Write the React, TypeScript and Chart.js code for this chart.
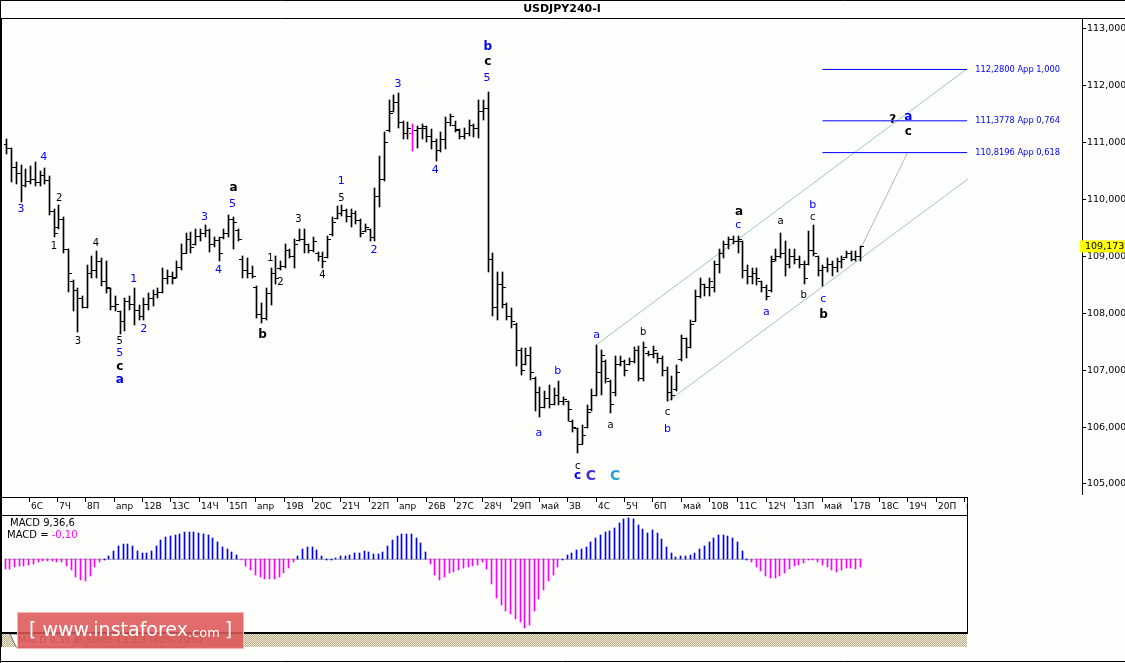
import React, { useEffect, useRef } from "react";
import { Chart, registerables } from "chart.js";
Chart.register(...registerables);

const TITLE = "USDJPY240-I";

const HIGH = [
  111.05,110.90,110.65,110.60,110.53,110.58,110.65,110.50,110.55,110.41,
  109.83,109.90,109.69,109.13,108.58,108.44,108.30,108.84,109.00,109.10,
  108.96,108.92,108.44,108.31,108.03,108.26,108.30,108.44,108.14,108.26,
  108.35,108.40,108.44,108.79,108.75,108.73,108.92,109.22,109.40,109.43,
  109.48,109.48,109.55,109.48,109.33,109.33,109.48,109.73,109.69,109.48,
  109.00,108.96,108.82,108.47,108.17,108.44,108.80,109.00,108.91,109.22,
  109.13,109.31,109.48,109.48,109.22,109.34,109.08,109.08,109.36,109.69,
  109.88,109.90,109.83,109.83,109.80,109.66,109.57,109.48,110.20,110.76,
  111.19,111.75,111.84,111.87,111.37,111.35,111.33,111.28,111.32,111.28,
  111.23,111.05,111.18,111.44,111.49,111.37,111.23,111.26,111.40,111.32,
  111.75,111.75,111.89,109.05,108.73,108.73,108.17,108.09,107.82,107.39,
  107.39,107.41,106.87,106.71,106.64,106.74,106.69,106.81,106.52,106.46,
  106.13,105.99,106.03,106.38,106.66,107.44,107.35,107.18,106.83,107.25,
  107.25,107.18,107.21,107.41,107.42,107.49,107.34,107.42,107.30,107.25,
  107.06,106.90,107.09,107.61,107.56,107.88,108.40,108.61,108.52,108.61,
  108.91,109.13,109.26,109.34,109.36,109.36,109.26,108.84,108.79,108.79,
  108.56,108.49,109.01,109.13,109.40,109.26,109.13,109.13,109.01,108.91,
  109.45,109.54,109.01,108.84,108.96,108.91,108.96,109.01,109.10,109.10,
  109.10,109.18,
];
const LOW = [
  110.79,110.30,110.27,109.95,110.22,110.27,110.23,110.23,110.27,109.73,
  109.34,109.48,109.05,108.38,108.03,107.67,108.09,108.09,108.61,108.61,
  108.47,108.35,108.05,108.03,107.63,107.68,108.05,107.79,107.88,107.88,
  108.05,108.12,108.26,108.35,108.52,108.52,108.61,108.75,109.05,109.05,
  109.19,109.26,109.34,109.08,109.17,108.91,109.31,109.34,109.13,109.26,
  108.61,108.61,108.61,107.91,107.83,107.88,108.14,108.52,108.75,108.79,
  108.96,108.80,109.26,109.05,109.05,109.08,108.91,108.79,108.96,109.36,
  109.66,109.71,109.60,109.52,109.57,109.34,109.43,109.27,109.27,109.87,
  110.32,111.18,111.54,111.26,111.05,111.05,110.84,110.90,111.05,111.00,
  110.88,110.67,110.83,110.88,111.28,111.18,111.05,111.05,111.11,111.09,
  111.07,111.40,108.73,107.95,107.88,108.09,107.88,107.74,107.07,106.92,
  107.09,106.83,106.29,106.17,106.34,106.34,106.39,106.39,106.39,106.11,
  105.91,105.54,105.70,105.99,106.29,106.55,106.57,106.78,106.25,106.55,
  107.07,106.90,107.09,107.13,106.81,106.81,107.25,107.21,107.13,106.90,
  106.45,106.48,106.64,107.16,107.21,107.39,107.86,108.26,108.30,108.31,
  108.38,108.70,108.96,109.13,109.22,109.05,108.61,108.52,108.52,108.49,
  108.38,108.23,108.38,108.91,108.96,108.65,108.79,108.87,108.79,108.52,
  108.84,109.01,108.65,108.47,108.73,108.65,108.73,108.79,108.96,108.91,
  108.91,108.92,
];
const OPEN = [
  110.97,110.90,110.55,110.45,110.25,110.32,110.35,110.30,110.42,110.33,
  109.78,109.50,109.65,109.12,108.55,108.40,108.25,108.10,108.70,108.75,
  108.90,108.55,108.44,108.12,108.03,107.85,108.20,108.15,108.05,107.95,
  108.15,108.25,108.32,108.36,108.60,108.64,108.62,108.80,109.05,109.30,
  109.20,109.35,109.40,109.45,109.20,109.28,109.33,109.40,109.65,109.45,
  108.95,108.75,108.70,108.45,107.98,107.90,108.35,108.70,108.78,108.82,
  109.10,109.00,109.28,109.30,109.20,109.10,109.05,109.00,108.98,109.38,
  109.66,109.75,109.80,109.70,109.75,109.62,109.44,109.47,109.32,110.05,
  110.35,111.20,111.55,111.70,111.35,111.15,111.15,111.20,111.25,111.25,
  111.10,111.02,110.85,111.05,111.35,111.30,111.20,111.10,111.15,111.30,
  111.25,111.55,111.60,108.95,108.10,108.50,108.15,107.95,107.80,107.35,
  107.10,107.25,106.85,106.60,106.35,106.50,106.40,106.55,106.45,106.45,
  106.10,105.98,105.70,106.00,106.30,106.55,106.95,107.15,106.80,106.60,
  107.10,107.15,107.10,107.15,107.35,106.85,107.30,107.28,107.30,107.20,
  107.00,106.60,106.66,107.18,107.55,107.40,107.86,108.30,108.50,108.45,
  108.45,108.85,109.05,109.20,109.30,109.25,109.25,108.75,108.65,108.70,
  108.55,108.45,108.40,108.95,109.00,109.05,108.85,109.00,108.95,108.85,
  108.85,109.10,109.00,108.75,108.80,108.85,108.80,108.90,108.98,109.05,
  108.95,109.00,
];
const CLOSE = [
  110.90,110.55,110.45,110.25,110.32,110.35,110.30,110.42,110.33,109.78,
  109.40,109.65,109.12,108.70,108.40,108.25,108.10,108.70,108.75,108.90,
  108.55,108.45,108.12,108.15,107.85,108.20,108.15,108.05,107.95,108.15,
  108.25,108.32,108.36,108.60,108.64,108.60,108.80,109.05,109.30,109.15,
  109.35,109.40,109.45,109.20,109.28,109.05,109.40,109.65,109.60,109.30,
  108.75,108.70,108.65,107.98,107.90,108.35,108.70,108.60,108.82,109.10,
  109.00,109.20,109.30,109.20,109.10,109.25,109.00,108.90,109.30,109.60,
  109.75,109.80,109.70,109.75,109.62,109.40,109.50,109.32,110.05,110.35,
  111.00,111.50,111.70,111.35,111.15,111.25,111.20,111.25,111.28,111.10,
  111.02,110.85,111.05,111.35,111.45,111.22,111.10,111.15,111.30,111.25,
  111.55,111.60,108.95,108.10,108.50,108.45,107.95,107.85,107.35,107.00,
  107.25,106.95,106.60,106.35,106.50,106.40,106.55,106.45,106.48,106.30,
  106.00,105.70,105.85,106.25,106.55,106.95,107.25,106.85,106.40,107.10,
  107.15,107.00,107.15,107.35,106.85,107.40,107.28,107.35,107.20,107.00,
  106.60,106.55,106.95,107.55,107.40,107.80,108.30,108.50,108.45,108.55,
  108.85,109.05,109.20,109.30,109.25,109.30,108.75,108.65,108.70,108.60,
  108.45,108.30,108.90,109.00,109.05,108.85,109.00,108.95,108.85,108.60,
  109.10,109.05,108.75,108.80,108.85,108.80,108.90,108.95,109.05,108.95,
  109.00,109.173,
];
const HIGHLIGHT_BAR = 86;

const MACD = [
  -0.12,-0.12,-0.10,-0.09,-0.08,-0.07,-0.06,-0.04,-0.025,-0.016,
  -0.02,-0.03,-0.04,-0.08,-0.13,-0.225,-0.26,-0.27,-0.21,-0.10,
  -0.04,0.006,0.046,0.10,0.17,0.19,0.19,0.16,0.10,0.075,
  0.075,0.10,0.16,0.24,0.275,0.29,0.30,0.31,0.34,0.34,
  0.34,0.325,0.31,0.30,0.26,0.21,0.15,0.13,0.09,0.05,
  -0.01,-0.08,-0.13,-0.20,-0.225,-0.24,-0.245,-0.24,-0.225,-0.17,
  -0.11,-0.04,0.04,0.125,0.15,0.155,0.115,0.04,0.005,0.005,
  0.02,0.04,0.04,0.055,0.075,0.075,0.10,0.095,0.065,0.065,
  0.09,0.16,0.235,0.285,0.315,0.32,0.32,0.27,0.20,0.09,
  -0.06,-0.195,-0.26,-0.225,-0.175,-0.155,-0.135,-0.11,-0.10,-0.085,
  -0.07,-0.03,-0.12,-0.31,-0.48,-0.57,-0.64,-0.68,-0.74,-0.78,
  -0.86,-0.82,-0.64,-0.49,-0.38,-0.27,-0.20,-0.10,0.006,0.054,
  0.084,0.11,0.13,0.15,0.21,0.26,0.30,0.34,0.35,0.39,
  0.45,0.50,0.51,0.50,0.43,0.375,0.33,0.37,0.33,0.25,
  0.15,0.084,0.034,0.041,0.046,0.059,0.084,0.13,0.17,0.21,
  0.26,0.30,0.30,0.29,0.26,0.21,0.10,0.004,-0.04,-0.10,
  -0.15,-0.21,-0.23,-0.23,-0.21,-0.175,-0.125,-0.09,-0.07,-0.05,
  -0.009,-0.009,-0.03,-0.07,-0.10,-0.13,-0.155,-0.14,-0.11,-0.11,
  -0.12,-0.10,
];
const MACD_NAME = "MACD 9,36,6";

const DAY_LABELS = [
  "6С","7Ч","8П","апр","12В","13С","14Ч","15П","апр","19В","20С","21Ч","22П","апр",
  "26В","27С","28Ч","29П","май","3В","4С","5Ч","6П","май","10В","11С","12Ч","13П","май",
  "17В","18С","19Ч","20П","май",
];
const FIRST_DAY_BAR = 5;
const BARS_PER_DAY = 6;

const FIB_LEVELS = [112.28, 111.3778, 110.8196];
const FIB_TEXT = ["112,2800 App 1,000", "111,3778 App 0,764", "110,8196 App 0,618"];
const FIB_START = 172.9;
const FIB_END = 203.6;

const CHANNEL_UPPER = [{ x: 125.0, y: 107.446 }, { x: 203.5, y: 112.288 }];
const CHANNEL_LOWER = [{ x: 140.04, y: 106.446 }, { x: 203.75, y: 110.356 }];
const PROJECTION = [{ x: 181, y: 109.134 }, { x: 190.96, y: 110.82 }];

// [bar index, price, text, colour key, font size, bold]
const WAVE_LABELS: [number, number, string, string, number, number][] = [
  [2.96, 109.83, "3", "B", 11, 0],
  [7.77, 110.74, "4", "B", 11, 0],
  [11.07, 110.02, "2", "K", 10, 0],
  [9.95, 109.17, "1", "K", 10, 0],
  [18.84, 109.22, "4", "K", 10, 0],
  [15.03, 107.51, "3", "K", 10, 0],
  [23.92, 107.51, "5", "K", 10, 0],
  [23.92, 107.30, "5", "B", 11, 0],
  [23.92, 107.06, "c", "K", 12, 1],
  [23.92, 106.83, "a", "B", 12, 1],
  [26.88, 108.59, "1", "B", 11, 0],
  [29.0, 107.72, "2", "B", 11, 0],
  [41.9, 109.69, "3", "B", 11, 0],
  [47.83, 109.92, "5", "B", 11, 0],
  [48.04, 110.20, "a", "K", 12, 1],
  [44.87, 108.75, "4", "B", 11, 0],
  [54.18, 107.62, "b", "K", 12, 1],
  [55.87, 108.96, "1", "K", 10, 0],
  [57.99, 108.54, "2", "K", 10, 0],
  [61.8, 109.64, "3", "K", 10, 0],
  [66.88, 108.66, "4", "K", 10, 0],
  [70.9, 110.32, "1", "B", 11, 0],
  [70.9, 110.02, "5", "K", 10, 0],
  [77.82, 109.10, "2", "B", 11, 0],
  [82.9, 112.03, "3", "B", 11, 0],
  [90.8, 110.51, "4", "B", 11, 0],
  [101.95, 112.68, "b", "B", 12, 1],
  [101.95, 112.42, "c", "K", 12, 1],
  [101.8, 112.12, "5", "B", 11, 0],
  [112.8, 105.89, "a", "B", 11, 0],
  [116.8, 106.99, "b", "B", 11, 0],
  [121.0, 105.31, "c", "K", 10, 0],
  [121.0, 105.14, "c", "B", 12, 1],
  [123.8, 105.14, "C", "V", 14, 1],
  [128.95, 105.14, "C", "T", 14, 1],
  [125.0, 107.62, "a", "B", 11, 0],
  [127.98, 106.03, "a", "K", 10, 0],
  [134.9, 107.67, "b", "K", 10, 0],
  [140.04, 106.25, "c", "K", 10, 0],
  [140.04, 105.96, "b", "B", 11, 0],
  [155.2, 109.78, "a", "K", 12, 1],
  [155.07, 109.55, "c", "B", 11, 0],
  [164.0, 109.61, "a", "K", 10, 0],
  [170.86, 109.90, "b", "B", 11, 0],
  [170.86, 109.68, "c", "K", 10, 0],
  [161.0, 108.02, "a", "B", 11, 0],
  [168.95, 108.31, "b", "K", 10, 0],
  [173.06, 108.24, "c", "B", 11, 0],
  [173.12, 107.97, "b", "K", 12, 1],
  [187.8, 111.39, "?", "K", 12, 1],
  [191.1, 111.44, "a", "B", 12, 1],
  [191.1, 111.18, "c", "K", 12, 1],
];
const LABEL_COLORS: Record<string, string> = {
  B: "#0000ff",
  K: "#000000",
  V: "#3a2fe0",
  T: "#2aa0d0",
};

const X_MIN = -0.635;
const X_MAX_A = 227.94;
const X_MAX_B = 203.6;
const Y_MIN = 104.824;
const Y_MAX = 113.166;
const MACD_MIN = -0.896;
const MACD_MAX = 0.541;
const BG = "#fefefc";
const FONT = '"DejaVu Sans", Verdana, sans-serif';

function tickImage(side: "open" | "close", color: string) {
  const c = document.createElement("canvas");
  c.width = 7;
  c.height = 1;
  const g = c.getContext("2d")!;
  g.fillStyle = color;
  if (side === "open") g.fillRect(0, 0, 4, 1);
  else g.fillRect(3, 0, 4, 1);
  return c;
}

// Snap the elements the library placed onto whole device pixels, so the 1px bars stay crisp.
const pixelSnap = {
  id: "pixelSnap",
  beforeDatasetsDraw(chart: any) {
    chart.getSortedVisibleDatasetMetas().forEach((meta: any) => {
      if (meta.type === "bar") {
        meta.data.forEach((el: any) => {
          el.x = Math.round(el.x - 0.5) + 0.5;
          el.y = Math.round(el.y);
          el.base = Math.round(el.base);
          if (el.y === el.base) el.base = el.y + 1;
        });
      } else if (meta.type === "scatter") {
        meta.data.forEach((el: any) => {
          el.x = Math.round(el.x - 0.5) + 0.5;
          el.y = Math.floor(el.y) + 0.5;
        });
      }
    });
  },
};

export default function App() {
  const refA = useRef<HTMLCanvasElement>(null);
  const refB = useRef<HTMLCanvasElement>(null);

  useEffect(() => {
    const openK = tickImage("open", "#000");
    const closeK = tickImage("close", "#000");
    const openM = tickImage("open", "#ff00ff");
    const closeM = tickImage("close", "#ff00ff");

    const decorA = {
      id: "decorA",
      beforeDraw(chart: any) {
        const c = chart.ctx;
        c.save();
        c.fillStyle = BG;
        c.fillRect(0, 0, chart.width, chart.height);
        c.restore();
      },
      afterDatasetsDraw(chart: any) {
        const c = chart.ctx;
        const xs = chart.scales.x;
        const ys = chart.scales.y;
        c.save();
        c.textAlign = "center";
        c.textBaseline = "middle";
        for (const [i, p, t, col, size, bold] of WAVE_LABELS) {
          c.font = `${bold ? "bold " : ""}${size}px ${FONT}`;
          c.fillStyle = LABEL_COLORS[col];
          c.fillText(t, xs.getPixelForValue(i), ys.getPixelForValue(p));
        }
        c.textAlign = "left";
        c.font = `8.3px ${FONT}`;
        c.fillStyle = "#0000ff";
        FIB_LEVELS.forEach((lv, k) => {
          c.fillText(FIB_TEXT[k], xs.getPixelForValue(FIB_END) + 8, ys.getPixelForValue(lv) + 0.5);
        });
        c.restore();
      },
      afterDraw(chart: any) {
        const c = chart.ctx;
        const ys = chart.scales.y;
        const ca = chart.chartArea;
        c.save();
        c.fillStyle = BG;
        c.fillRect(0, 0, chart.width, ca.top - 1);
        c.strokeStyle = "#000";
        c.lineWidth = 1;
        c.beginPath();
        c.moveTo(0, 0.5);
        c.lineTo(chart.width, 0.5);
        c.moveTo(0, ca.top - 0.5);
        c.lineTo(chart.width, ca.top - 0.5);
        c.moveTo(0.5, 0);
        c.lineTo(0.5, chart.height);
        c.moveTo(1.5, ca.top);
        c.lineTo(1.5, chart.height);
        c.stroke();
        c.font = `bold 11px ${FONT}`;
        c.fillStyle = "#000";
        c.textAlign = "center";
        c.textBaseline = "middle";
        c.fillText(TITLE, 562, 9.5);
        const last = CLOSE[CLOSE.length - 1];
        const py = ys.getPixelForValue(last);
        c.fillStyle = "#ffff00";
        c.fillRect(ca.right - 2, py - 6, chart.width - ca.right + 2, 12);
        c.fillStyle = "#000";
        c.textAlign = "left";
        c.font = `9.5px ${FONT}`;
        c.fillText(last.toFixed(3).replace(".", ","), ca.right + 3, py + 0.5);
        c.restore();
      },
    };

    const chartA = new Chart(refA.current!, {
      type: "bar",
      data: {
        datasets: [
          {
            type: "bar",
            data: HIGH.map((h, i) => ({ x: i, y: [LOW[i], h] })) as any,
            backgroundColor: HIGH.map((_, i) => (i === HIGHLIGHT_BAR ? "#ff00ff" : "#000000")),
            borderWidth: 0,
            barThickness: 1,
            order: 1,
          },
          {
            type: "scatter",
            data: OPEN.map((o, i) => ({ x: i, y: o })),
            pointStyle: (ctx: any) => (ctx.dataIndex === HIGHLIGHT_BAR ? openM : openK),
            pointRadius: 3,
            pointHoverRadius: 3,
            order: 0,
          } as any,
          {
            type: "scatter",
            data: CLOSE.map((o, i) => ({ x: i, y: o })),
            pointStyle: (ctx: any) => (ctx.dataIndex === HIGHLIGHT_BAR ? closeM : closeK),
            pointRadius: 3,
            pointHoverRadius: 3,
            order: 0,
          } as any,
          {
            type: "line",
            data: CHANNEL_UPPER,
            borderColor: "#9cc6ce",
            borderWidth: 1,
            pointRadius: 0,
            order: 5,
          } as any,
          {
            type: "line",
            data: CHANNEL_LOWER,
            borderColor: "#9cc6ce",
            borderWidth: 1,
            pointRadius: 0,
            order: 5,
          } as any,
          {
            type: "line",
            data: PROJECTION,
            borderColor: "#b4b4b4",
            borderWidth: 1,
            pointRadius: 0,
            order: 5,
          } as any,
          ...FIB_LEVELS.map(
            (lv) =>
              ({
                type: "line",
                data: [
                  { x: FIB_START, y: lv },
                  { x: FIB_END, y: lv },
                ],
                borderColor: "#0000ff",
                borderWidth: 1,
                pointRadius: 0,
                order: 4,
              } as any)
          ),
        ],
      },
      options: {
        animation: false,
        responsive: false,
        maintainAspectRatio: false,
        events: [],
        layout: { padding: { left: 2, top: 19, right: 0, bottom: 1 } },
        plugins: { legend: { display: false }, tooltip: { enabled: false } },
        scales: {
          x: {
            type: "linear",
            min: X_MIN,
            max: X_MAX_A,
            offset: false,
            display: false,
          },
          y: {
            type: "linear",
            position: "right",
            min: Y_MIN,
            max: Y_MAX,
            ticks: {
              stepSize: 1,
              includeBounds: false,
              color: "#000",
              padding: 1,
              font: { family: FONT, size: 9.5 },
              callback: (v: any) => Number(v).toFixed(3).replace(".", ","),
            },
            grid: { drawOnChartArea: false, drawTicks: true, tickLength: 4, color: "#000" },
            border: { display: true, color: "#000", width: 1 },
            afterFit: (s: any) => {
              s.width = 43;
              s.paddingTop = 0;
              s.paddingBottom = 0;
            },
          } as any,
        },
      },
      plugins: [pixelSnap, decorA],
    });

    const decorB = {
      id: "decorB",
      beforeDraw(chart: any) {
        const c = chart.ctx;
        c.save();
        c.fillStyle = BG;
        c.fillRect(0, 0, chart.width, chart.height);
        c.restore();
      },
      afterDraw(chart: any) {
        const c = chart.ctx;
        const xs = chart.scales.x;
        const ca = chart.chartArea;
        const R = ca.right;
        c.save();
        // hatched strip
        const pc = document.createElement("canvas");
        pc.width = 2;
        pc.height = 2;
        const pg = pc.getContext("2d")!;
        pg.fillStyle = "#ece6d2";
        pg.fillRect(0, 0, 2, 2);
        pg.fillStyle = "#bdb08c";
        pg.fillRect(0, 0, 1, 1);
        pg.fillRect(1, 1, 1, 1);
        c.fillStyle = c.createPattern(pc, "repeat");
        c.fillRect(1, ca.bottom + 3, R - 1, 13);
        // tabs
        const tb = ca.bottom + 3;
        c.strokeStyle = "#6a6a6a";
        c.lineWidth = 1;
        c.beginPath();
        c.moveTo(10, tb);
        c.lineTo(16, tb + 13);
        c.lineTo(73, tb + 13);
        c.lineTo(79, tb);
        c.closePath();
        c.fillStyle = "#ffffff";
        c.fill();
        c.stroke();
        c.beginPath();
        c.moveTo(79, tb);
        c.lineTo(85, tb + 13);
        c.lineTo(186, tb + 13);
        c.lineTo(192, tb);
        c.stroke();
        c.font = `9.5px ${FONT}`;
        c.fillStyle = "#3a3a3a";
        c.textBaseline = "middle";
        c.textAlign = "left";
        c.fillText(MACD_NAME, 18, tb + 6.5);
        c.fillText("Stoch 13,3,3 (80%-20%)", 86, tb + 6.5);
        // frame lines
        c.strokeStyle = "#000";
        c.beginPath();
        c.moveTo(0, 0.5);
        c.lineTo(R + 0.5, 0.5);
        c.moveTo(0, ca.top - 0.5);
        c.lineTo(R + 0.5, ca.top - 0.5);
        c.moveTo(R + 0.5, 0);
        c.lineTo(R + 0.5, ca.bottom + 3);
        c.moveTo(0.5, 0);
        c.lineTo(0.5, chart.height);
        c.moveTo(1.5, 0);
        c.lineTo(1.5, ca.bottom + 16);
        c.moveTo(0, chart.height - 1.5);
        c.lineTo(chart.width, chart.height - 1.5);
        c.stroke();
        c.fillStyle = "#000";
        c.fillRect(0, ca.bottom + 1, R + 1, 2);
        // date row
        c.save();
        c.beginPath();
        c.rect(0, 0, R, ca.top - 1);
        c.clip();
        c.font = `9px ${FONT}`;
        c.fillStyle = "#000";
        c.textAlign = "left";
        c.textBaseline = "middle";
        c.beginPath();
        DAY_LABELS.forEach((lab, k) => {
          const px = Math.round(xs.getPixelForValue(FIRST_DAY_BAR + k * BARS_PER_DAY)) + 0.5;
          c.moveTo(px, 0);
          c.lineTo(px, 5);
          c.fillText(lab, px + 1.5, 10);
        });
        c.stroke();
        c.restore();
        // MACD texts
        c.font = `10px ${FONT}`;
        c.fillStyle = "#000";
        c.textAlign = "left";
        c.textBaseline = "middle";
        c.fillText(MACD_NAME, 10, 26.5);
        const lbl = "MACD = ";
        c.fillText(lbl, 7, 38.5);
        const w = c.measureText(lbl).width;
        c.fillStyle = "#ff00ff";
        c.fillText(MACD[MACD.length - 1].toFixed(2).replace(".", ","), 7 + w, 38.5);
        // watermark
        c.fillStyle = "rgba(222, 86, 86, 0.88)";
        c.fillRect(17, 115, 227, 37);
        c.strokeStyle = "rgba(255, 190, 190, 0.9)";
        c.strokeRect(17.5, 115.5, 226, 36);
        c.fillStyle = "#ffffff";
        let x = 29;
        const y = 134.5;
        c.font = `19px ${FONT}`;
        c.fillText("[", x, y);
        x += c.measureText("[").width + 6;
        c.fillText("www.instaforex", x, y);
        x += c.measureText("www.instaforex").width;
        c.font = `13px ${FONT}`;
        c.fillText(".com", x, y + 2);
        x += c.measureText(".com").width + 5;
        c.font = `19px ${FONT}`;
        c.fillText("]", x, y);
        c.restore();
      },
    };

    const chartB = new Chart(refB.current!, {
      type: "bar",
      data: {
        datasets: [
          {
            type: "bar",
            data: MACD.map((v, i) => ({ x: i, y: v })),
            backgroundColor: MACD.map((v) => (v >= 0 ? "#0000ff" : "#ff00ff")),
            borderWidth: 0,
            barThickness: 1,
            order: 1,
          },
          {
            type: "line",
            data: [
              { x: 0, y: 0 },
              { x: MACD.length - 1, y: 0 },
            ],
            borderColor: "#a0a0a0",
            borderWidth: 1,
            pointRadius: 0,
            order: 2,
          } as any,
        ],
      },
      options: {
        animation: false,
        responsive: false,
        maintainAspectRatio: false,
        events: [],
        layout: { padding: { left: 2, top: 19, right: 158, bottom: 32 } },
        plugins: { legend: { display: false }, tooltip: { enabled: false } },
        scales: {
          x: { type: "linear", min: X_MIN, max: X_MAX_B, offset: false, display: false },
          y: { type: "linear", min: MACD_MIN, max: MACD_MAX, display: false },
        },
      },
      plugins: [pixelSnap, decorB],
    });

    return () => {
      chartA.destroy();
      chartB.destroy();
    };
  }, []);

  return (
    <div
      style={{
        position: "fixed",
        left: 0,
        top: 0,
        width: 1125,
        height: 663,
        background: BG,
        overflow: "hidden",
      }}
    >
      <canvas
        ref={refA}
        width={1125}
        height={498}
        style={{ position: "absolute", left: 0, top: 0, width: 1125, height: 498 }}
      />
      <canvas
        ref={refB}
        width={1125}
        height={166}
        style={{ position: "absolute", left: 0, top: 497, width: 1125, height: 166 }}
      />
    </div>
  );
}
